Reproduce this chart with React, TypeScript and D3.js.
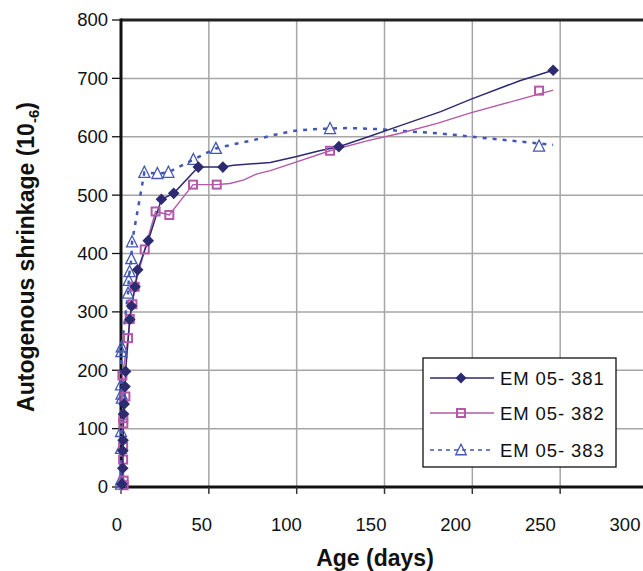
import React from "react";
import * as d3 from "d3";

// ---- data ----
const xTicks = [0, 50, 100, 150, 200, 250, 300];
const yTicks = [0, 100, 200, 300, 400, 500, 600, 700, 800];
const seriesNames = ["EM 05- 381", "EM 05- 382", "EM 05- 383"];

// markers: [age (days), shrinkage]
const marks381: [number, number][] = [
  [0.5, 5], [1, 32], [1, 62], [1.2, 80], [1.5, 125], [1.8, 142], [2.3, 172], [2.6, 198],
  [5, 287], [6, 310], [8, 343], [9.5, 372], [15.5, 422], [23, 493], [30, 503],
  [44, 548], [58, 548], [124, 583], [246, 714],
];
const marks382: [number, number][] = [
  [1.5, 3], [1.5, 11], [1.2, 47], [1.2, 69], [1.3, 109], [1.3, 118], [2.5, 155],
  [0.8, 191], [4, 255], [5, 288], [6.5, 313], [7.8, 343], [13.5, 407], [19.7, 472],
  [27.5, 466], [41, 518], [54.5, 518], [119, 576], [238, 679],
];
const marks383: [number, number][] = [
  [0, 5], [0, 12], [0, 66], [0, 95], [0.5, 152], [0.3, 159], [0, 175], [0.2, 232],
  [0.4, 240], [4, 332], [4.4, 354], [4.9, 369], [5.9, 391], [6.3, 420], [13.3, 539],
  [20.7, 537], [27, 539], [41.2, 561], [54, 580], [119, 614], [238, 584],
];

// line tails (the curves continue beyond the early markers)
const tail381: [number, number][] = [
  [64, 551], [85, 556], [100, 566], [113, 576], [124, 583], [140, 599], [159, 619],
  [182, 643], [199, 664], [227, 696], [246, 714],
];
const tail382: [number, number][] = [
  [62, 520], [70, 526], [77, 536], [85, 542], [100, 557], [119, 576], [140, 593],
  [159, 606], [180, 623], [199, 641], [227, 664], [246, 680],
];
const tail383: [number, number][] = [
  [64, 587], [75, 594], [87, 603], [98, 610], [110, 613], [119, 614], [130, 615],
  [147, 613], [159, 610], [176, 607], [191, 603], [206, 598], [220, 594], [246, 586],
];

const line381 = [...marks381.filter((d) => d[0] <= 58)];
line381.push(...tail381);
const line382 = [...marks382.filter((d) => d[0] <= 55)];
line382.push(...tail382);
const line383 = [...marks383.filter((d) => d[0] <= 55)];
line383.push(...tail383);

const C381 = "#2c2a70";
const C382 = "#b458a9";
const C383 = "#4257b3";

export default function App() {
  const W = 643;
  const H = 571;
  const x = d3.scaleLinear().domain([0, 300]).range([121, 648]);
  const xLab = d3.scaleLinear().domain([0, 300]).range([117, 625]);
  const y = d3.scaleLinear().domain([0, 800]).range([487, 20]);
  const line = d3
    .line<[number, number]>()
    .x((d) => x(d[0]))
    .y((d) => y(d[1]))
    .curve(d3.curveLinear);

  const font = "Liberation Sans, Arial, sans-serif";

  const diamond = (cx: number, cy: number, r: number, key: any) => (
    <path key={key} d={`M${cx},${cy - r}L${cx + r},${cy}L${cx},${cy + r}L${cx - r},${cy}Z`} fill={C381} />
  );
  const square = (cx: number, cy: number, s: number, key: any) => (
    <rect key={key} x={cx - s / 2} y={cy - s / 2} width={s} height={s} fill="none" stroke={C382} strokeWidth={2} />
  );
  const tri = (cx: number, cy: number, s: number, key: any) => (
    <path
      key={key}
      d={`M${cx},${cy - s * 0.55}L${cx + s / 2},${cy + s * 0.45}L${cx - s / 2},${cy + s * 0.45}Z`}
      fill="none"
      stroke={C383}
      strokeWidth={1.3}
    />
  );

  const legendRows = [
    { name: seriesNames[0], y: 378, color: C381, dash: undefined, m: (cx: number, cy: number) => diamond(cx, cy, 5.5, "l1") },
    { name: seriesNames[1], y: 413, color: C382, dash: undefined, m: (cx: number, cy: number) => square(cx, cy, 8, "l2") },
    { name: seriesNames[2], y: 450, color: C383, dash: "4 4", m: (cx: number, cy: number) => tri(cx, cy, 10.5, "l3") },
  ];

  return (
    <svg width={W} height={H} style={{ position: "absolute", left: 0, top: 0, background: "#fff" }} fontFamily={font}>
      <rect x={0} y={0} width={W} height={H} fill="#fff" />
      {/* grid */}
      {yTicks
        .filter((t) => t > 0 && t < 800)
        .map((t) => (
          <line key={"gy" + t} x1={x(0)} x2={W} y1={y(t)} y2={y(t)} stroke="#a6a6a6" strokeWidth={1.5} />
        ))}
      {xTicks
        .filter((t) => t > 0)
        .map((t) => (
          <line key={"gx" + t} x1={x(t)} x2={x(t)} y1={y(800)} y2={y(0) + 6} stroke="#a6a6a6" strokeWidth={1.5} />
        ))}
      {/* frame / axes */}
      <line x1={x(0)} x2={W} y1={y(800)} y2={y(800)} stroke="#222" strokeWidth={3} />
      <line x1={x(0)} x2={W} y1={y(0)} y2={y(0)} stroke="#111" strokeWidth={3} />
      <line x1={x(0)} x2={x(0)} y1={y(800) - 1.5} y2={y(0) + 1.5} stroke="#111" strokeWidth={3} />
      {/* ticks */}
      {yTicks.map((t) => (
        <line key={"ty" + t} x1={x(0) - 9} x2={x(0)} y1={y(t)} y2={y(t)} stroke="#111" strokeWidth={1.3} />
      ))}
      {xTicks.map((t) => (
        <line key={"tx" + t} x1={x(t)} x2={x(t)} y1={y(0)} y2={y(0) + 7} stroke="#333" strokeWidth={1.3} />
      ))}
      {/* tick labels */}
      {yTicks.map((t) => (
        <text key={"ly" + t} x={108} y={y(t)} dy="0.35em" textAnchor="end" fontSize={18.5} fill="#111">
          {t}
        </text>
      ))}
      {xTicks.map((t) => (
        <text key={"lx" + t} x={xLab(t)} y={531} textAnchor="middle" fontSize={18.5} fill="#111">
          {t}
        </text>
      ))}
      {/* axis titles */}
      <text x={375} y={566} textAnchor="middle" fontSize={23} fontWeight="bold" fill="#111">
        Age (days)
      </text>
      <text transform="translate(34,257) rotate(-90)" textAnchor="middle" fontSize={23} fontWeight="bold" fill="#111">
        Autogenous shrinkage (10
        <tspan fontSize={15} dy={5}>-6</tspan>
        <tspan dy={-5}>)</tspan>
      </text>

      {/* lines */}
      <path d={line(line383) || ""} fill="none" stroke={C383} strokeWidth={2.5} strokeDasharray="4 6" />
      <path d={line(line382) || ""} fill="none" stroke={C382} strokeWidth={1.4} />
      <path d={line(line381) || ""} fill="none" stroke={C381} strokeWidth={1.5} />

      {/* markers */}
      {marks383.map((d, i) => tri(x(d[0]), y(d[1]), 11, "m3" + i))}
      {marks382.map((d, i) => square(x(d[0]), y(d[1]), 8, "m2" + i))}
      {marks381.map((d, i) => diamond(x(d[0]), y(d[1]), 5.8, "m1" + i))}

      {/* legend */}
      <rect x={423} y={358} width={193} height={109} fill="#fff" stroke="#111" strokeWidth={1.3} />
      {legendRows.map((r) => (
        <g key={r.name}>
          <line x1={430} x2={494} y1={r.y} y2={r.y} stroke={r.color} strokeWidth={1.4} strokeDasharray={r.dash} />
          {r.m(461, r.y)}
          <text x={500} y={r.y} dy="0.36em" fontSize={18.5} letterSpacing={0.9} fill="#111">
            {r.name}
          </text>
        </g>
      ))}
    </svg>
  );
}
